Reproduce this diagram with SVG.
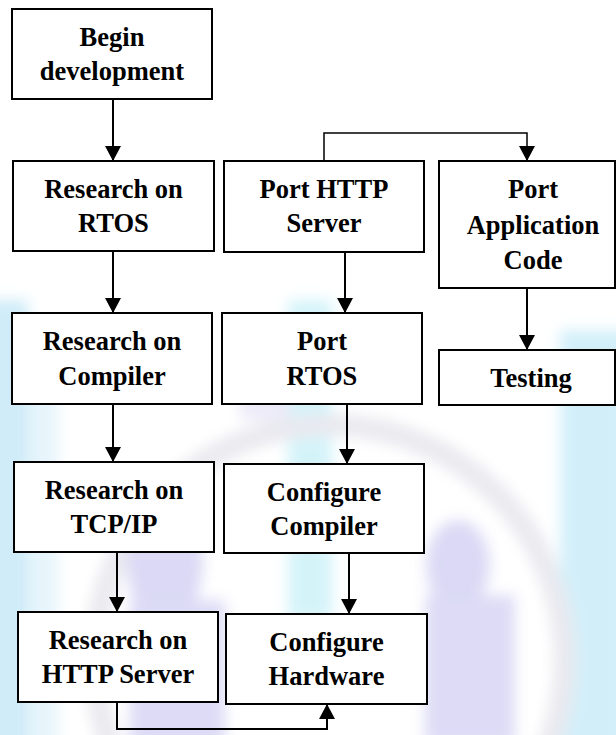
<svg xmlns="http://www.w3.org/2000/svg" width="616" height="735" viewBox="0 0 616 735">
<defs>
<style>
.box{fill:#fff;stroke:#000;stroke-width:2}
.lbl{font-family:"Liberation Serif","Times New Roman",serif;font-weight:bold;font-size:26.5px;fill:#000;text-anchor:middle}
.con{fill:none;stroke:#000;stroke-width:2}
.thin{fill:none;stroke:#000;stroke-width:1.5}
</style>
<marker id="ah" viewBox="0 0 15 16" refX="15" refY="8" markerWidth="15" markerHeight="16" markerUnits="userSpaceOnUse" orient="auto">
<path d="M0,0 L15,8 L0,16 z" fill="#000"/>
</marker>
<filter id="blur" x="-20%" y="-20%" width="140%" height="140%"><feGaussianBlur stdDeviation="7"/></filter>
</defs>
<rect width="616" height="735" fill="#fff"/>
<g id="watermark" filter="url(#blur)" opacity="0.75">
<rect x="-20" y="300" width="48" height="460" fill="#bfe6f6"/>
<rect x="28" y="330" width="30" height="420" fill="#dff2fa"/>
<rect x="288" y="300" width="44" height="320" fill="#c6f0f8"/>
<rect x="560" y="330" width="70" height="420" fill="#c4eaf8"/>
<circle cx="330" cy="660" r="235" fill="none" stroke="#e2e2ea" stroke-width="22"/>
<ellipse cx="165" cy="560" rx="38" ry="70" fill="#cfcdf2"/>
<rect x="130" y="600" width="95" height="150" fill="#d2d0f3"/>
<ellipse cx="458" cy="565" rx="32" ry="45" fill="#cfcdf2"/>
<rect x="425" y="595" width="90" height="150" fill="#d2d0f3"/>
<rect x="240" y="330" width="50" height="90" fill="#e6e4f6"/>
</g>
<g id="connectors">
<path class="con" d="M113,99 V161" marker-end="url(#ah)"/>
<path class="con" d="M113,251 V313" marker-end="url(#ah)"/>
<path class="con" d="M113,404 V462" marker-end="url(#ah)"/>
<path class="con" d="M117,552 V612" marker-end="url(#ah)"/>
<path class="con" d="M117,702 V729 H327 V704" marker-end="url(#ah)"/>
<path class="thin" d="M324,161 V133 H527 V161" marker-end="url(#ah)"/>
<path class="con" d="M345,252 V313" marker-end="url(#ah)"/>
<path class="con" d="M347,404 V464" marker-end="url(#ah)"/>
<path class="con" d="M349,553 V614" marker-end="url(#ah)"/>
<path class="con" d="M527,288 V350" marker-end="url(#ah)"/>
</g>
<g id="begin"><rect class="box" x="12" y="9" width="200" height="90"/><text class="lbl" x="112" y="46">Begin</text><text class="lbl" x="112" y="80">development</text></g>
<g id="research-rtos"><rect class="box" x="13" y="161" width="201" height="90"/><text class="lbl" x="113.5" y="198">Research on</text><text class="lbl" x="113.5" y="232">RTOS</text></g>
<g id="research-compiler"><rect class="box" x="12" y="313" width="200" height="91"/><text class="lbl" x="112" y="350">Research on</text><text class="lbl" x="112" y="385">Compiler</text></g>
<g id="research-tcpip"><rect class="box" x="14" y="462" width="200" height="90"/><text class="lbl" x="114" y="499">Research on</text><text class="lbl" x="114" y="533">TCP/IP</text></g>
<g id="research-http"><rect class="box" x="18" y="612" width="200" height="90"/><text class="lbl" x="118" y="649">Research on</text><text class="lbl" x="118" y="683">HTTP Server</text></g>
<g id="port-http"><rect class="box" x="224" y="161" width="200" height="91"/><text class="lbl" x="324" y="198">Port HTTP</text><text class="lbl" x="324" y="232">Server</text></g>
<g id="port-rtos"><rect class="box" x="222" y="313" width="200" height="91"/><text class="lbl" x="322" y="350">Port</text><text class="lbl" x="322" y="385">RTOS</text></g>
<g id="configure-compiler"><rect class="box" x="224" y="464" width="200" height="89"/><text class="lbl" x="324" y="501">Configure</text><text class="lbl" x="324" y="535">Compiler</text></g>
<g id="configure-hardware"><rect class="box" x="226" y="614" width="201" height="90"/><text class="lbl" x="326.5" y="651">Configure</text><text class="lbl" x="326.5" y="685">Hardware</text></g>
<g id="port-app"><rect class="box" x="439" y="161" width="176" height="127"/><text class="lbl" x="533" y="198">Port</text><text class="lbl" x="533" y="234">Application</text><text class="lbl" x="533" y="269">Code</text></g>
<g id="testing"><rect class="box" x="439" y="350" width="176" height="55"/><text class="lbl" x="531" y="387">Testing</text></g>
</svg>
